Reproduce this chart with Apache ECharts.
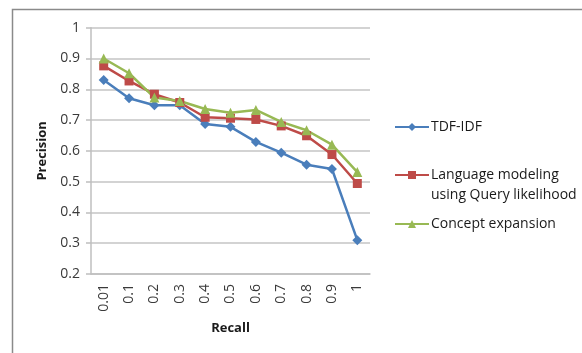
<!DOCTYPE html>
<html>
<head>
<meta charset="utf-8">
<script src="https://cdn.jsdelivr.net/npm/echarts@6/dist/echarts.min.js"></script>
<style>
  html, body { margin: 0; padding: 0; background: #fff; }
  #chart { width: 582px; height: 353px; }
</style>
</head>
<body>
<div id="chart"></div>
<script>
// Recall levels on the x axis
const recall = ['0.01', '0.1', '0.2', '0.3', '0.4', '0.5', '0.6', '0.7', '0.8', '0.9', '1'];

// Precision at each recall level
const tdfIdf = [0.83, 0.771, 0.748, 0.748, 0.687, 0.678, 0.629, 0.594, 0.555, 0.541, 0.31];
const languageModeling = [0.876, 0.827, 0.784, 0.757, 0.709, 0.706, 0.702, 0.681, 0.649, 0.588, 0.494];
const conceptExpansion = [0.9, 0.852, 0.773, 0.762, 0.736, 0.724, 0.733, 0.694, 0.667, 0.62, 0.531];

const FONT = '"Open Sans", "Liberation Sans", sans-serif';

const chart = echarts.init(document.getElementById('chart'), null, { renderer: 'canvas' });

function legendAt(name, left, top) {
  return {
    data: [name],
    left: left,
    top: top,
    orient: 'vertical',
    itemWidth: 34,
    itemHeight: 10,
    itemGap: 0,
    padding: 0,
    selectedMode: false,
    formatter: function (n) { return n === 'Language modeling using Query likelihood' ? 'Language modeling' : n; },
    textStyle: { fontFamily: FONT, fontSize: 14, color: '#1a1a1a', padding: [0, 0, 0, -3] }
  };
}

chart.setOption({
  animation: false,
  backgroundColor: '#ffffff',
  grid: { left: 91, right: 212, top: 27.7, bottom: 79, containLabel: false },
  legend: [
    legendAt('TDF-IDF', 394, 120),
    legendAt('Language modeling using Query likelihood', 394, 168),
    legendAt('Concept expansion', 394, 217)
  ],
  graphic: [
    {
      type: 'rect',
      shape: { x: 12.5, y: 9.5, width: 620, height: 400 },
      style: { fill: null, stroke: '#8a8a8a', lineWidth: 1.5 },
      silent: true
    },
    {
      type: 'text',
      left: 431,
      top: 188,
      style: { text: 'using Query likelihood', font: '14px ' + FONT, fill: '#1a1a1a' },
      silent: true
    }
  ],
  xAxis: {
    type: 'category',
    data: recall,
    boundaryGap: true,
    name: 'Recall',
    nameLocation: 'middle',
    nameGap: 48,
    nameTextStyle: { fontFamily: FONT, fontSize: 13, fontWeight: 'bold', color: '#1a1a1a' },
    axisLine: { lineStyle: { color: '#bfbfbf', width: 1.5 } },
    axisTick: { show: false },
    axisLabel: { rotate: 90, margin: 10, fontFamily: FONT, fontSize: 14, color: '#3a3a3a' }
  },
  yAxis: {
    type: 'value',
    min: 0.2,
    max: 1,
    interval: 0.1,
    name: 'Precision',
    nameLocation: 'middle',
    nameGap: 42,
    nameRotate: 90,
    nameTextStyle: { fontFamily: FONT, fontSize: 13, fontWeight: 'bold', color: '#1a1a1a' },
    axisLine: { show: true, lineStyle: { color: '#bfbfbf', width: 1.5 } },
    axisTick: { show: true, length: 5, lineStyle: { color: '#bfbfbf', width: 1.5 } },
    axisLabel: { margin: 11, fontFamily: FONT, fontSize: 14, color: '#3a3a3a',
      formatter: function (v) { return String(Math.round(v * 10) / 10); } },
    splitLine: { lineStyle: { color: '#c4c4c4', width: 1.5 } }
  },
  series: [
    {
      name: 'TDF-IDF', type: 'line', data: tdfIdf,
      symbol: 'diamond', symbolSize: 10,
      lineStyle: { color: '#4a7ebb', width: 2.5 },
      itemStyle: { color: '#4a7ebb' }
    },
    {
      name: 'Language modeling using Query likelihood', type: 'line', data: languageModeling,
      symbol: 'rect', symbolSize: 9,
      lineStyle: { color: '#be4b48', width: 2.5 },
      itemStyle: { color: '#be4b48' }
    },
    {
      name: 'Concept expansion', type: 'line', data: conceptExpansion,
      symbol: 'triangle', symbolSize: 10,
      lineStyle: { color: '#98b954', width: 2.5 },
      itemStyle: { color: '#98b954' }
    }
  ]
});
</script>
</body>
</html>
